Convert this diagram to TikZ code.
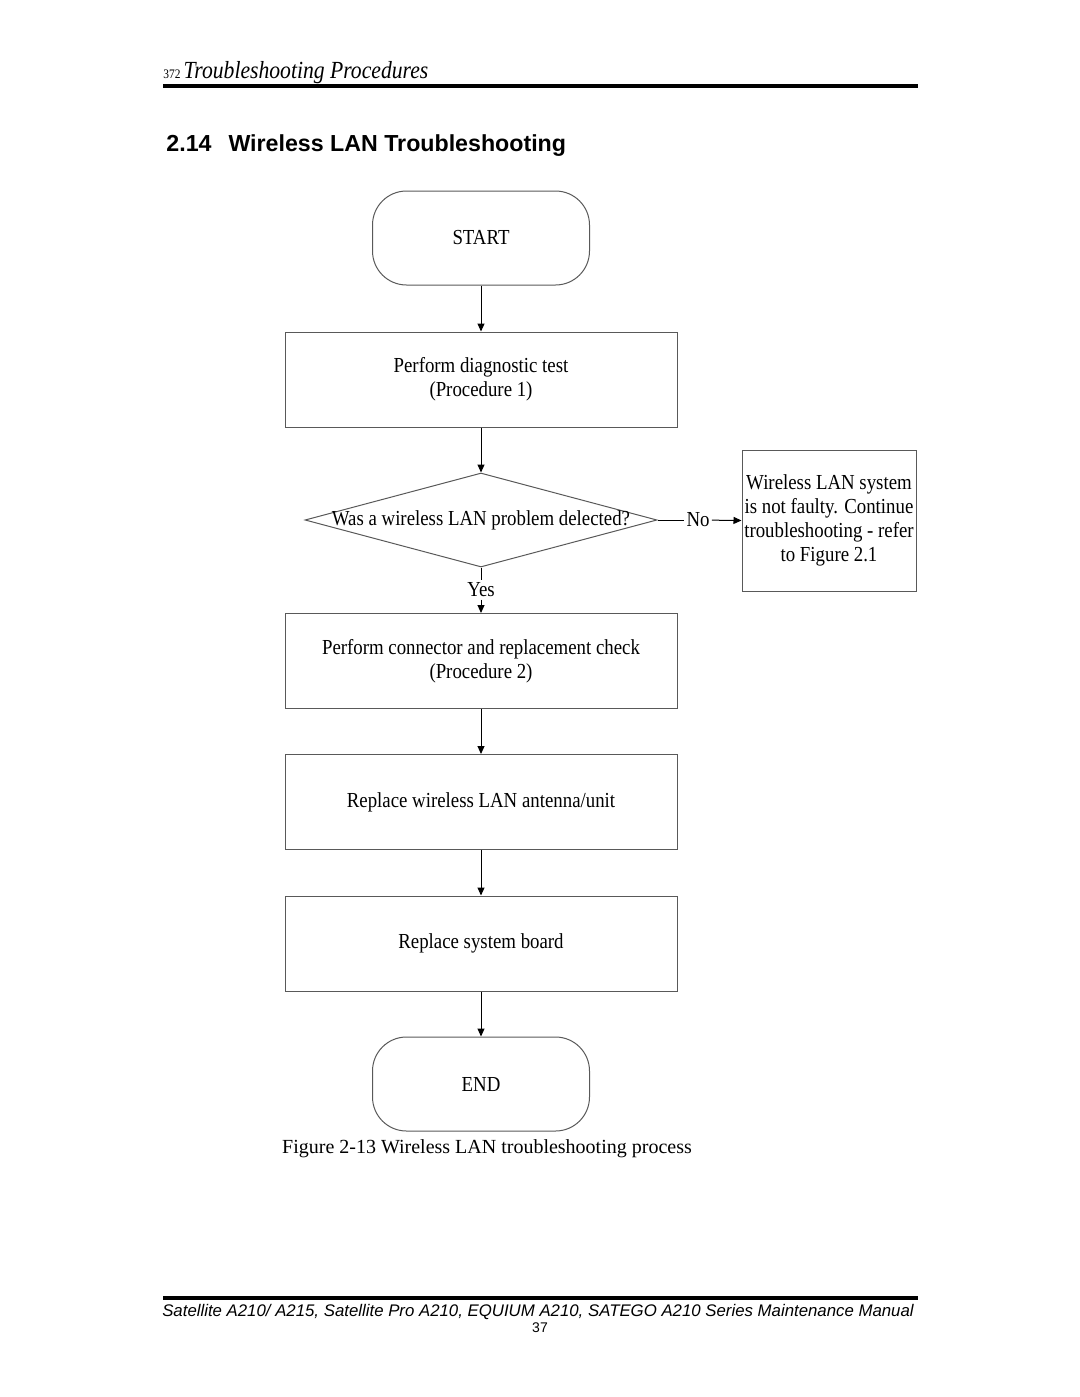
\documentclass[tikz,border=0pt]{standalone}
\usepackage{fontspec}
\setmainfont{Liberation Serif}
\setsansfont{Liberation Sans}
\newfontfamily\chartfont[FakeStretch=0.88]{Liberation Serif}
\usetikzlibrary{shapes.geometric,arrows.meta}

\begin{document}
\begin{tikzpicture}[x=0.5pt, y=-0.5pt,
  every node/.style={inner sep=1pt, align=center, font={\chartfont\fontsize{10.7}{12}\selectfont}},
  termbox/.style={rectangle, rounded corners=17pt, draw=black!65, line width=0.5pt, minimum width=108.5pt, minimum height=47pt},
  procbox/.style={rectangle, draw=black!65, line width=0.5pt, minimum width=196pt, minimum height=47.5pt},
  decision/.style={diamond, draw=black!65, line width=0.5pt, minimum width=176pt, minimum height=47pt, inner sep=0pt},
  sidebox/.style={rectangle, draw=black!65, line width=0.5pt, minimum width=87pt, minimum height=70.5pt},
  arr/.style={-{Triangle[length=4pt,width=3.5pt]}, line width=0.5pt}]

\useasboundingbox (0,0) rectangle (1080,1397);

% Intestazione e titolo
\node[anchor=base west, inner sep=0pt, font={\chartfont\fontsize{12.3}{14}\selectfont}] (head) at (163,78) {{\fontsize{6.5}{8}\selectfont 372}\hspace{1.5pt}\itshape Troubleshooting Procedures};
\coordinate (hl) at (163,86);
\coordinate (hr) at (918,86);
\draw[line width=2pt] (hl) -- (hr);
\node[anchor=base west, font={\sffamily\bfseries\fontsize{11.6}{14}\selectfont}] (title) at (164,151) {2.14\hspace{8.5pt}Wireless LAN Troubleshooting};

% Blocchi del diagramma
\node[termbox] (start) at (481,238) {START};
\node[procbox] (diag) at (481,379.5) {Perform diagnostic test\\(Procedure 1)};
\node[decision] (q) at (481,520) {};
\node (qtext) at (481,520) {Was a wireless LAN problem delected?};
\node (no) at (698,520) {No};
\node[sidebox] (side) at (829,520.5) {Wireless LAN system\\is not faulty. Continue\\troubleshooting - refer\\to Figure 2.1};
\node (yes) at (481,590) {Yes};
\node[procbox] (conn) at (481,661) {Perform connector and replacement check\\(Procedure 2)};
\node[procbox] (ant) at (481,802) {Replace wireless LAN antenna/unit};
\node[procbox] (board) at (481,943.5) {Replace system board};
\node[termbox] (end) at (481,1084) {END};

% Archi
\draw[arr] (start) -- (diag);
\draw[arr] (diag) -- (q.north);
\draw (q.east) -- (no);
\draw[arr] (no) -- (side.west);
\draw (q.south) -- (yes);
\draw[arr] (yes) -- (conn);
\draw[arr] (conn) -- (ant);
\draw[arr] (ant) -- (board);
\draw[arr] (board) -- (end);

% Didascalia e pie' di pagina
\node[anchor=base, font={\rmfamily\fontsize{10}{12}\selectfont}] (caption) at (487,1153) {Figure 2-13 Wireless LAN troubleshooting process};
\coordinate (fl) at (163,1298);
\coordinate (fr) at (918,1298);
\draw[line width=2pt] (fl) -- (fr);
\node[anchor=base, font={\sffamily\itshape\fontsize{8.4}{10}\selectfont}] (foot) at (538,1316) {Satellite A210/ A215, Satellite Pro A210, EQUIUM A210, SATEGO A210 Series Maintenance Manual};
\node[anchor=base, font={\sffamily\fontsize{7}{8}\selectfont}] (page) at (540,1332) {37};
\end{tikzpicture}
\end{document}
